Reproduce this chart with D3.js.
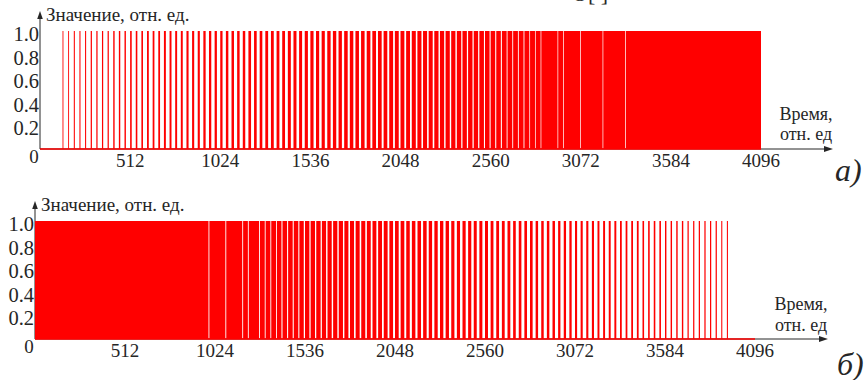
<!DOCTYPE html>
<html>
<head>
<meta charset="utf-8">
<script src="https://cdn.jsdelivr.net/npm/d3@7"></script>
<style>
  html, body { margin: 0; padding: 0; background: #fff; }
  svg { display: block; }
</style>
</head>
<body>
<svg id="chart" width="866" height="380"></svg>
<script>
// ---------------- data ----------------
const totalTime = 4096;          // time axis length, rel. units
const periodLen = 32;            // length of one PWM period, rel. units
const xTickValues = [512, 1024, 1536, 2048, 2560, 3072, 3584, 4096];
const yTickValues = [0.2, 0.4, 0.6, 0.8, 1.0];
const yTickLabels = ["0.2", "0.4", "0.6", "0.8", "1.0"];
const yAxisTitle = "Значение, отн. ед.";
const xAxisTitle = ["Время,", "отн. ед"];
const panelLabels = ["а)", "б)"];

// pulse width (rel. units, value = 1.0) inside each of the 128 periods, panel a
const pulseWidthsA = [
  0, 0, 0, 0, 5, 5, 6, 6, 6, 7, 7, 7, 7, 8, 8, 8,
  9, 9, 9, 10, 10, 10, 11, 11, 11, 11, 12, 12, 12, 13, 13, 13,
  13, 14, 14, 14, 14, 15, 15, 15, 16, 16, 16, 16, 17, 17, 17, 18,
  18, 18, 18, 19, 19, 19, 20, 20, 20, 20, 21, 21, 21, 21, 22, 22,
  22, 22, 23, 23, 23, 23, 24, 24, 24, 24, 25, 25, 25, 25, 26, 26,
  26, 26, 27, 27, 27, 27, 28, 28, 28, 32, 32, 28, 28, 32, 32, 28,
  32, 32, 32, 28, 32, 32, 32, 28, 32, 32, 32, 32, 32, 32, 32, 32,
  32, 32, 32, 32, 32, 32, 32, 32, 32, 32, 32, 32, 32, 32, 32, 32
];
// pulse width inside each of the 128 periods, panel б
const pulseWidthsB = [
  32, 32, 32, 32, 32, 32, 32, 32, 32, 32, 32, 32, 32, 32, 32, 32,
  32, 32, 32, 32, 32, 32, 32, 32, 32, 32, 32, 32, 32, 32, 27, 32,
  32, 27, 32, 32, 27, 27, 32, 27, 27, 27, 27, 26, 26, 26, 26, 25,
  25, 25, 25, 24, 24, 24, 24, 23, 23, 23, 23, 22, 22, 22, 22, 21,
  21, 21, 20, 20, 20, 20, 19, 19, 19, 19, 18, 18, 18, 18, 17, 17,
  17, 16, 16, 16, 16, 15, 15, 15, 15, 14, 14, 14, 14, 13, 13, 13,
  12, 12, 12, 12, 11, 11, 11, 11, 10, 10, 10, 10, 9, 9, 9, 9,
  8, 8, 8, 8, 7, 7, 7, 7, 7, 7, 6, 6, 0, 0, 0, 0
];

// ---------------- layout ----------------
const FONT = "'Liberation Serif', 'Times New Roman', Tinos, 'Nimbus Roman', 'DejaVu Serif', 'Noto Serif', serif";
const panels = [
  { widths: pulseWidthsA, x0: 40, x1: 761, yTop: 31, yBase: 149, arrowX: 833,
    tx: 806, ty1: 120, ty2: 140, lx: 835, ly: 181 },
  { widths: pulseWidthsB, x0: 35, x1: 755, yTop: 221, yBase: 339, arrowX: 828,
    tx: 801, ty1: 310, ty2: 331, lx: 837, ly: 375 }
];

const svg = d3.select("#chart");
const RED = "#ff0000";
const INK = "#262626";

function txt(sel) {
  return sel.attr("font-family", FONT).style("font-family", FONT).attr("fill", INK);
}

// clipped remnant of text from above the figure
txt(svg.append("text")).attr("x", 572).attr("y", 1)
  .style("font-size", "22px").text("O[ ]");

panels.forEach((p, pi) => {
  const g = svg.append("g");
  const x = d3.scaleLinear().domain([0, totalTime]).range([p.x0, p.x1]);
  const y = d3.scaleLinear().domain([0, 1]).range([p.yBase, p.yTop]);

  // axes (lines + arrow heads)
  g.append("line").attr("x1", p.x0).attr("x2", p.arrowX - 6)
    .attr("y1", p.yBase).attr("y2", p.yBase)
    .attr("stroke", INK).attr("stroke-width", 1);
  g.append("path")
    .attr("d", `M${p.arrowX},${p.yBase} L${p.arrowX - 9},${p.yBase - 3} L${p.arrowX - 9},${p.yBase + 3} Z`)
    .attr("fill", INK);
  const yTipY = p.yTop - 20;
  g.append("line").attr("x1", p.x0).attr("x2", p.x0)
    .attr("y1", p.yBase).attr("y2", yTipY + 6)
    .attr("stroke", INK).attr("stroke-width", 1);
  g.append("path")
    .attr("d", `M${p.x0},${yTipY} L${p.x0 - 2.8},${yTipY + 8} L${p.x0 + 2.8},${yTipY + 8} Z`)
    .attr("fill", INK);

  // pulses: merge adjacent pulses into continuous runs
  const runs = [];
  p.widths.forEach((w, i) => {
    if (w <= 0) return;
    const s = i * periodLen, e = s + w;
    const last = runs[runs.length - 1];
    if (last && Math.abs(last.e - s) < 1e-9) last.e = e;
    else runs.push({ s, e });
  });
  g.selectAll("rect.pulse").data(runs).enter().append("rect")
    .attr("class", "pulse")
    .attr("x", d => x(d.s))
    .attr("width", d => x(d.e) - x(d.s))
    .attr("y", y(1))
    .attr("height", y(0) - y(1))
    .attr("fill", RED);
  // zero level of the signal
  g.append("line").attr("x1", x(0)).attr("x2", x(totalTime))
    .attr("y1", y(0)).attr("y2", y(0))
    .attr("stroke", RED).attr("stroke-width", 1.5);

  // x tick labels
  txt(g.selectAll("text.xt").data(xTickValues).enter().append("text"))
    .attr("class", "xt")
    .attr("x", d => x(d)).attr("y", p.yBase + 17.5)
    .attr("text-anchor", "middle").style("font-size", "19px")
    .text(d => d);
  txt(g.append("text")).attr("x", p.x0 - 6).attr("y", p.yBase + 14)
    .attr("text-anchor", "middle").style("font-size", "19px").text("0");

  // y tick labels
  txt(g.selectAll("text.yt").data(yTickValues).enter().append("text"))
    .attr("class", "yt")
    .attr("x", p.x0 - 1).attr("y", d => y(d) + 10)
    .attr("text-anchor", "end").style("font-size", "20.5px")
    .text((d, i) => yTickLabels[i]);

  // axis titles
  txt(g.append("text")).attr("x", p.x0 + 6).attr("y", p.yTop - 10)
    .style("font-size", "19px").text(yAxisTitle);
  txt(g.append("text")).attr("x", p.tx).attr("y", p.ty1)
    .attr("text-anchor", "middle").style("font-size", "18px").text(xAxisTitle[0]);
  txt(g.append("text")).attr("x", p.tx).attr("y", p.ty2)
    .attr("text-anchor", "middle").style("font-size", "18px").text(xAxisTitle[1]);

  // panel label
  txt(g.append("text")).attr("x", p.lx).attr("y", p.ly)
    .style("font-size", "32px").style("font-style", "italic")
    .text(panelLabels[pi]);
});
</script>
</body>
</html>
